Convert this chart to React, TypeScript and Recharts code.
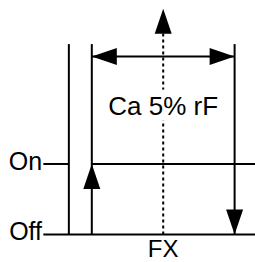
import React from 'react';
import { ComposedChart, XAxis, YAxis, ReferenceLine, Scatter } from 'recharts';

// schematic units: x = humidity position (0..100), y = switching state (Off = 0, On = 40)
const OFF = 0;
const ON = 40;
const TOP = 108;
const ARROW_Y = 101;
const DOTTED_TOP = 128;

const AXIS_X = 27;
const SWITCH_ON_X = 36;
const SWITCH_OFF_X = 92;
const FX_X = 64;
const LINE_START_X = 17;

const solidLines = [
  [{ x: AXIS_X, y: OFF }, { x: AXIS_X, y: TOP }],
  [{ x: SWITCH_ON_X, y: OFF }, { x: SWITCH_ON_X, y: TOP }],
  [{ x: SWITCH_OFF_X, y: OFF }, { x: SWITCH_OFF_X, y: TOP }],
  [{ x: LINE_START_X, y: OFF }, { x: 100, y: OFF }],
  [{ x: LINE_START_X, y: ON }, { x: AXIS_X, y: ON }],
  [{ x: SWITCH_ON_X, y: ON }, { x: 100, y: ON }],
  [{ x: SWITCH_ON_X, y: ARROW_Y }, { x: SWITCH_OFF_X, y: ARROW_Y }],
];

const dottedLine = [{ x: FX_X, y: OFF }, { x: FX_X, y: 114 }];

const arrows = [
  { x: SWITCH_ON_X, y: ON, dir: 'up' },
  { x: SWITCH_OFF_X, y: OFF, dir: 'down' },
  { x: FX_X, y: DOTTED_TOP, dir: 'up' },
  { x: SWITCH_ON_X, y: ARROW_Y, dir: 'left' },
  { x: SWITCH_OFF_X, y: ARROW_Y, dir: 'right' },
];

const labels = [
  { x: 16.5, y: 36.6, text: 'On', anchor: 'end', size: 25, bg: false },
  { x: 16.5, y: -3, text: 'Off', anchor: 'end', size: 25, bg: false },
  { x: FX_X, y: -12.8, text: 'FX', anchor: 'middle', size: 24, bg: false },
  { x: FX_X, y: 68, text: 'Ca 5% rF', anchor: 'middle', size: 26, bg: true },
];

const font = '"Liberation Sans", Arial, sans-serif';

const ArrowHead = (props: any) => {
  const { cx, cy, payload } = props;
  const L = 25;
  const W = 8.5;
  let pts = '';
  if (payload.dir === 'up') pts = `${cx},${cy} ${cx - W},${cy + L} ${cx + W},${cy + L}`;
  if (payload.dir === 'down') pts = `${cx},${cy} ${cx - W},${cy - L} ${cx + W},${cy - L}`;
  if (payload.dir === 'left') pts = `${cx},${cy} ${cx + L},${cy - W} ${cx + L},${cy + W}`;
  if (payload.dir === 'right') pts = `${cx},${cy} ${cx - L},${cy - W} ${cx - L},${cy + W}`;
  return <polygon points={pts} fill="#000" />;
};

const TextMark = (props: any) => {
  const { cx, cy, payload } = props;
  return (
    <g>
      {payload.bg && <rect x={cx - 56} y={cy - 25} width={112} height={31} fill="#fff" />}
      <text x={cx} y={cy} textAnchor={payload.anchor} fontFamily={font} fontSize={payload.size} fill="#000">
        {payload.text}
      </text>
    </g>
  );
};

export default function App() {
  return (
    <div style={{ position: 'absolute', left: 0, top: 0, background: '#fff' }}>
      <ComposedChart width={255} height={262} margin={{ top: 0, right: 0, bottom: 0, left: 0 }}>
        <XAxis type="number" dataKey="x" domain={[0, 100]} allowDataOverflow hide />
        <YAxis type="number" dataKey="y" domain={[-15.6, 133]} allowDataOverflow hide />
        {solidLines.map((seg, i) => (
          <ReferenceLine key={i} segment={seg} stroke="#000" strokeWidth={2} ifOverflow="visible" />
        ))}
        <ReferenceLine segment={dottedLine} stroke="#000" strokeWidth={2} strokeDasharray="3 3" ifOverflow="visible" />
        <Scatter data={arrows} dataKey="y" shape={<ArrowHead />} isAnimationActive={false} />
        <Scatter data={labels} dataKey="y" shape={<TextMark />} isAnimationActive={false} />
      </ComposedChart>
    </div>
  );
}
